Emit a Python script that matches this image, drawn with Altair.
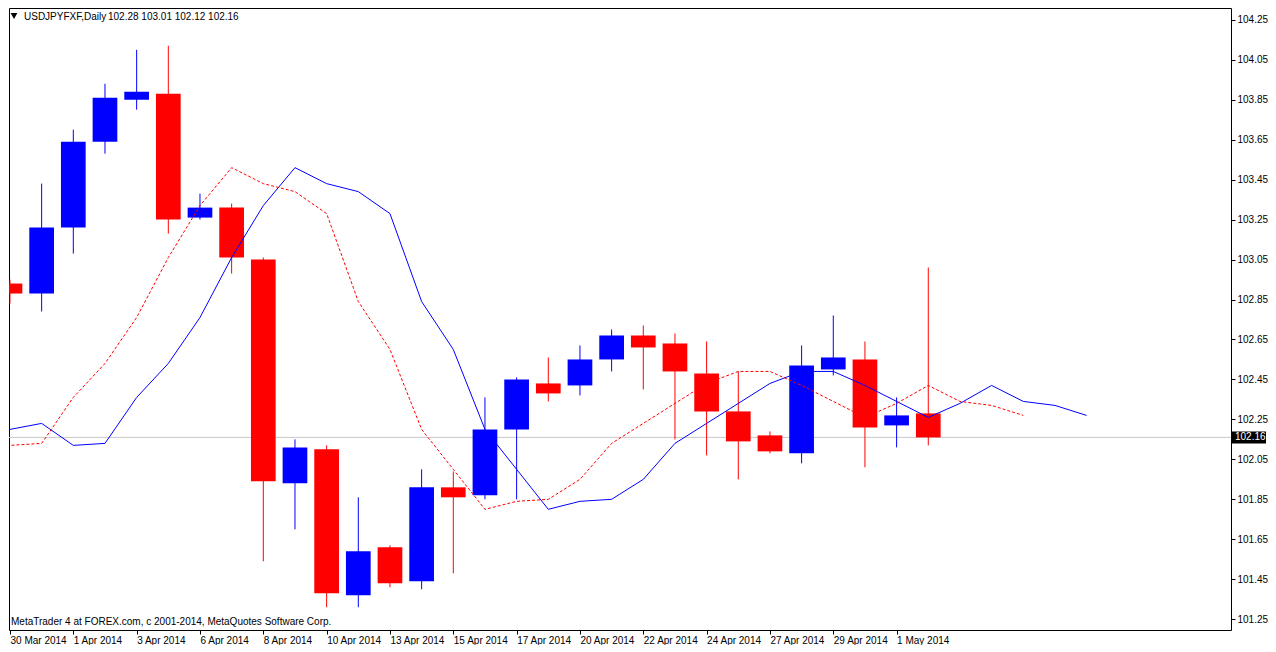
import altair as alt
import pandas as pd

# ---------------- data ----------------
dates = ["30 Mar 2014", "31 Mar 2014", "1 Apr 2014", "2 Apr 2014", "3 Apr 2014",
         "4 Apr 2014", "6 Apr 2014", "7 Apr 2014", "8 Apr 2014", "9 Apr 2014",
         "10 Apr 2014", "11 Apr 2014", "13 Apr 2014", "14 Apr 2014", "15 Apr 2014",
         "16 Apr 2014", "17 Apr 2014", "18 Apr 2014", "20 Apr 2014", "21 Apr 2014",
         "22 Apr 2014", "23 Apr 2014", "24 Apr 2014", "25 Apr 2014", "27 Apr 2014",
         "28 Apr 2014", "29 Apr 2014", "30 Apr 2014", "1 May 2014", "2 May 2014"]
opens = [102.93, 102.88, 103.21, 103.64, 103.85, 103.88, 103.26, 103.31, 103.05, 101.93,
         102.10, 101.37, 101.61, 101.44, 101.91, 101.87, 102.20, 102.43, 102.42, 102.55,
         102.67, 102.63, 102.48, 102.29, 102.17, 102.08, 102.50, 102.55, 102.22, 102.28]
highs = [102.95, 103.43, 103.70, 103.93, 104.10, 104.12, 103.38, 103.33, 103.06, 102.15,
         102.12, 101.86, 101.62, 102.00, 101.99, 102.36, 102.46, 102.56, 102.62, 102.70,
         102.72, 102.68, 102.64, 102.49, 102.19, 102.62, 102.77, 102.64, 102.36, 103.01]
lows = [102.83, 102.79, 103.08, 103.58, 103.80, 103.18, 103.25, 102.98, 101.54, 101.70,
        101.31, 101.31, 101.41, 101.40, 101.48, 101.85, 101.85, 102.34, 102.37, 102.49,
        102.40, 102.15, 102.07, 101.95, 102.08, 102.03, 102.47, 102.01, 102.11, 102.12]
closes = [102.88, 103.21, 103.64, 103.86, 103.89, 103.25, 103.31, 103.06, 101.94, 102.11,
          101.38, 101.59, 101.43, 101.91, 101.86, 102.20, 102.45, 102.38, 102.55, 102.67,
          102.61, 102.49, 102.29, 102.14, 102.09, 102.52, 102.56, 102.21, 102.27, 102.16]

# moving average (same series drawn with two different shifts)
ma_values = [102.20, 102.23, 102.12, 102.13, 102.36, 102.53, 102.76, 103.06, 103.32, 103.51,
             103.43, 103.39, 103.28, 102.84, 102.60, 102.20, 102.00, 101.80, 101.84, 101.85,
             101.95, 102.13, 102.23, 102.33, 102.43, 102.49, 102.49, 102.42, 102.34, 102.26,
             102.33, 102.42, 102.34, 102.32, 102.27]
blue_shift = 5   # bars
red_shift = 3    # bars

price_ticks = [101.25, 101.45, 101.65, 101.85, 102.05, 102.25, 102.45, 102.65,
               102.85, 103.05, 103.25, 103.45, 103.65, 103.85, 104.05, 104.25]
date_tick_idx = [0, 2, 4, 6, 8, 10, 12, 14, 16, 18, 20, 22, 24, 26, 28]

symbol_name = "USDJPYFXF,Daily"
footer = "MetaTrader 4 at FOREX.com, c 2001-2014, MetaQuotes Software Corp."

# ---------------- layout ----------------
W, H = 1222, 622
FONT = "Liberation Sans"
BLUE = "#0000ff"
RED = "#ff0000"

candles = pd.DataFrame({
    "i": list(range(len(dates))),
    "date": dates, "open": opens, "high": highs, "low": lows, "close": closes,
})
candles["dir"] = ["up" if c >= o else "down" for o, c in zip(opens, closes)]

ma = pd.DataFrame({"k": list(range(len(ma_values))), "ma": ma_values})
ma["pos_blue"] = ma["k"]
ma["pos_red"] = ma["k"] - (blue_shift - red_shift)
ma_red = ma[ma["pos_red"] >= -1]

xs = alt.Scale(domain=[-0.031, 38.56], nice=False, zero=False)
ys = alt.Scale(domain=[101.196, 104.309], nice=False, zero=False)
cs = alt.Scale(domain=["up", "down"], range=[BLUE, RED])

label_expr = "[" + ",".join("'%s'" % d for d in dates) + "][datum.value]"

x_axis = alt.Axis(values=date_tick_idx, labelExpr=label_expr, labelAlign="left",
                  labelBaseline="top", labelPadding=1, tickSize=4, tickColor="black",
                  domain=False, grid=False, title=None, labelFont=FONT, labelFontSize=10,
                  labelColor="black", labelFlush=False, labelOverlap=False)
y_axis = alt.Axis(orient="right", values=price_ticks, format=".2f", tickSize=4,
                  tickColor="black", labelPadding=2, domain=False, grid=False, title=None,
                  labelFont=FONT, labelFontSize=10, labelColor="black",
                  labelFlush=False, labelOverlap=False)


def X(field):
    return alt.X(field, scale=xs, axis=x_axis, title=None)


def Y(field):
    return alt.Y(field, scale=ys, axis=y_axis, title=None)


last_close = closes[-1]
bid = pd.DataFrame({"p": [last_close]})

bid_line = alt.Chart(bid).mark_rule(color="#c8c8c8", strokeWidth=1).encode(y=Y("p:Q"))

wicks = alt.Chart(candles).mark_rule(strokeWidth=1, clip=True).encode(
    x=X("i:Q"), y=Y("low:Q"), y2="high:Q",
    color=alt.Color("dir:N", scale=cs, legend=None),
)

bodies = alt.Chart(candles).transform_calculate(
    xa="datum.i - 0.39", xb="datum.i + 0.39"
).mark_rect(clip=True).encode(
    x=X("xa:Q"), x2="xb:Q", y=Y("open:Q"), y2="close:Q",
    color=alt.Color("dir:N", scale=cs, legend=None),
)

blue_line = alt.Chart(ma).mark_line(color=BLUE, strokeWidth=1, clip=True).encode(
    x=X("pos_blue:Q"), y=Y("ma:Q"),
)
red_line = alt.Chart(ma_red).mark_line(color=RED, strokeWidth=1, strokeDash=[3, 2],
                                       clip=True).encode(
    x=X("pos_red:Q"), y=Y("ma:Q"),
)

# price label box on the right axis
price_box = alt.Chart(bid).mark_rect(
    color="black", yOffset=-6, y2Offset=6, clip=False
).encode(
    x=alt.value(W + 1), x2=alt.value(W + 35), y=Y("p:Q"), y2="p:Q",
)
price_text = alt.Chart(bid).transform_calculate(
    t="format(datum.p, '.2f')"
).mark_text(color="white", align="left", baseline="middle", font=FONT, fontSize=10,
            clip=False).encode(
    x=alt.value(W + 4), y=Y("p:Q"), text="t:N",
)

# header and footer
one = pd.DataFrame({"a": [0]})
tri = alt.Chart(one).mark_point(shape="triangle-down", filled=True, color="black",
                                size=45, opacity=1).encode(x=alt.value(5), y=alt.value(8))
ohlc_txt = "%.2f %.2f %.2f %.2f" % (opens[-1], highs[-1], lows[-1], closes[-1])
title1 = alt.Chart(one).mark_text(align="left", baseline="middle", font=FONT, fontSize=10,
                                  color="black").encode(
    x=alt.value(15), y=alt.value(8.5), text=alt.value(symbol_name))
title2 = alt.Chart(one).mark_text(align="left", baseline="middle", font=FONT, fontSize=10,
                                  color="black").encode(
    x=alt.value(99), y=alt.value(8.5), text=alt.value(ohlc_txt))
foot = alt.Chart(one).mark_text(align="left", baseline="middle", font=FONT, fontSize=10,
                                color="black").encode(
    x=alt.value(2), y=alt.value(H - 8), text=alt.value(footer))

chart = alt.layer(
    bid_line, wicks, bodies, blue_line, red_line, price_box, price_text,
    tri, title1, title2, foot
).properties(width=W, height=H, padding=0, background="white").configure_view(
    stroke="black", strokeWidth=1
)

chart.save("out.html", embed_options={"renderer": "svg", "actions": False})
